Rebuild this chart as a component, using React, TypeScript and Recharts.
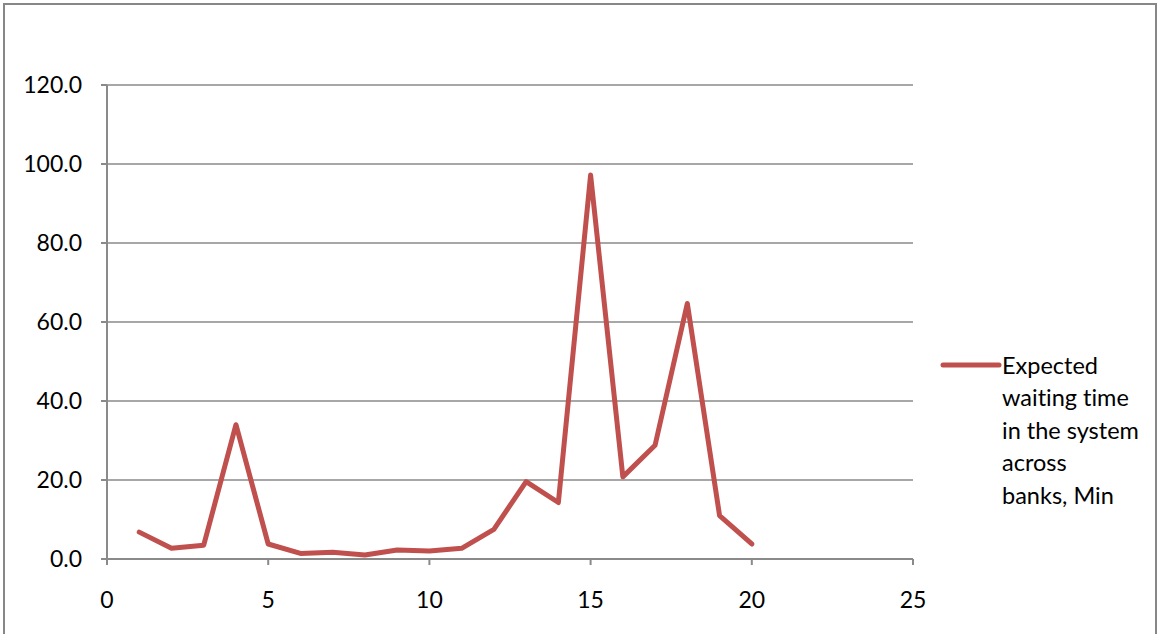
import React from 'react';
import { LineChart, Line, XAxis, YAxis, CartesianGrid, Legend } from 'recharts';

// bank number along the x axis
const banks = [1, 2, 3, 4, 5, 6, 7, 8, 9, 10, 11, 12, 13, 14, 15, 16, 17, 18, 19, 20];
// expected waiting time in the system, minutes
const waitMinutes = [6.8, 2.7, 3.5, 34.0, 3.8, 1.4, 1.7, 1.0, 2.3, 2.0, 2.7, 7.5, 19.6, 14.3, 97.2, 20.8, 28.8, 64.7, 11.0, 3.8];

const xTicks = [0, 5, 10, 15, 20, 25];
const yTicks = [0, 20, 40, 60, 80, 100, 120];

const seriesName = 'Expected waiting time in the system across banks, Min';
const legendLines = ['Expected', 'waiting time', 'in the system', 'across', 'banks, Min'];

const data = banks.map((b, i) => ({ bank: b, wait: waitMinutes[i] }));

const FONT = 'Lato, "Open Sans", sans-serif';
const LINE = '#C0504D';
const GRID = '#8a8a8a';

const LegendBox = () => (
  <div style={{
    position: 'relative', fontFamily: FONT, fontSize: 23.5, lineHeight: '32.4px', color: '#000',
    fontVariantLigatures: 'none',
  }}>
    <svg width={62} height={10} style={{ position: 'absolute', left: 0, top: 11 }}>
      <line x1={3} y1={5} x2={59} y2={5} stroke={LINE} strokeWidth={5} strokeLinecap="round" />
    </svg>
    <div style={{ marginLeft: 62 }}>
      {legendLines.map((t) => (
        <div key={t} style={{ whiteSpace: 'nowrap' }}>{t}</div>
      ))}
    </div>
  </div>
);

const tickStyle = { fill: '#000', fontSize: 23, fontFamily: FONT };

export default function App() {
  return (
    <div style={{ position: 'absolute', left: 0, top: 0, width: 1158, height: 634, background: '#fff', overflow: 'hidden' }}>
      <div style={{
        position: 'absolute', left: 3, top: 3, width: 1150, height: 640,
        border: '2px solid #878787',
      }} />
      <LineChart
        width={1158}
        height={634}
        data={data}
        margin={{ top: 85, right: 245, bottom: 35, left: 0 }}
        style={{ position: 'absolute', left: 0, top: 0 }}
      >
        <CartesianGrid vertical={false} stroke={GRID} strokeWidth={1.5} />
        <XAxis
          dataKey="bank"
          type="number"
          domain={[0, 25]}
          ticks={xTicks}
          height={40}
          stroke={GRID}
          strokeWidth={2}
          tickSize={6}
          tickMargin={27}
          tick={tickStyle}
          interval={0}
        />
        <YAxis
          type="number"
          domain={[0, 120]}
          ticks={yTicks}
          width={107}
          stroke={GRID}
          strokeWidth={2}
          tickSize={6}
          tickMargin={19}
          tick={tickStyle}
          tickFormatter={(v: number) => v.toFixed(1)}
          interval={0}
        />
        <Legend
          layout="horizontal"
          verticalAlign="middle"
          align="center"
          content={<LegendBox />}
          wrapperStyle={{ left: 940, top: 349, width: 215 }}
        />
        <Line
          name={seriesName}
          type="linear"
          dataKey="wait"
          stroke={LINE}
          strokeWidth={5}
          strokeLinejoin="round"
          strokeLinecap="round"
          dot={false}
          activeDot={false}
          isAnimationActive={false}
        />
      </LineChart>
    </div>
  );
}
